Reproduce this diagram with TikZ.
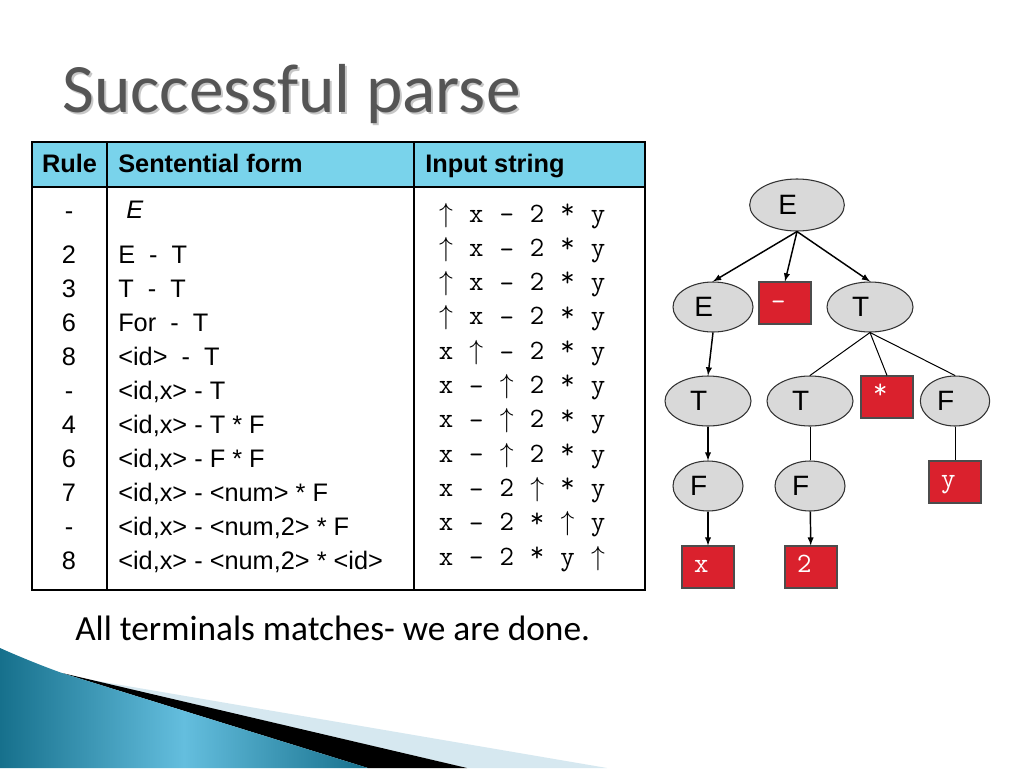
\documentclass[tikz,border=0pt]{standalone}
\usepackage{fontspec}
\setmainfont{Liberation Sans}
\newfontfamily\slidefont{Carlito}
\usetikzlibrary{shapes.geometric}

\definecolor{headcyan}{RGB}{121,211,235}
\definecolor{nodegray}{RGB}{217,217,217}
\definecolor{termred}{RGB}{218,33,45}
\definecolor{titlegray}{RGB}{85,85,85}
\definecolor{swoopdark}{RGB}{22,112,140}
\definecolor{swooplight}{RGB}{100,190,222}
\definecolor{swooppale}{RGB}{214,232,240}

\newcommand\inptr{$\uparrow$}
\newcommand\tokdash{\raisebox{-0.15ex}{–}}
\newcommand\tokstar{\raisebox{0.3ex}{*}}

\tikzset{
  nt/.style={ellipse, draw=black!80, fill=nodegray, line width=0.8pt, inner sep=0pt,
    minimum height=37.5pt, font=\fontsize{21}{21}\selectfont,
    execute at end node={\hspace{14pt}}},
  term/.style={rectangle, draw=black!70, fill=termred, text=white, line width=0.8pt,
    minimum width=39pt, minimum height=31.5pt, inner sep=0pt, text height=11pt, text depth=3pt,
    font=\ttfamily\fontsize{21}{21}\selectfont, execute at end node={\hspace{10pt}}},
  cell/.style={anchor=base west, inner sep=0pt, font=\fontsize{19}{19}\selectfont},
  tok/.style={anchor=base, inner sep=0pt, font=\ttfamily\fontsize{21}{21}\selectfont},
  tie/.style={line width=0.75pt},
  arr/.style={->, >=latex, line width=1.1pt},
}

\begin{document}
\begin{tikzpicture}[x=0.75pt, y=-0.75pt]
\useasboundingbox (0,0) rectangle (1024,768);
\fill[white] (0,0) rectangle (1024,768);

% title
\node[anchor=base west, inner sep=0pt, text=black!22, font=\slidefont\fontsize{52}{52}\selectfont] (shadow) at (64,114) {Successful parse};
\node[anchor=base west, inner sep=0pt, text=titlegray, font=\slidefont\fontsize{52}{52}\selectfont] (title) at (62,112) {Successful parse};

% table
\fill[headcyan] (32,142) rectangle (645,187);
\draw[line width=1.1pt] (32,187) -- (645,187);
\draw[line width=1.1pt] (107,142) -- (107,590);
\draw[line width=1.1pt] (414,142) -- (414,590);
\draw[line width=2.2pt] (32,142) rectangle (645,590);

\node[cell, anchor=base, font=\bfseries\fontsize{19}{19}\selectfont] (hRule) at (69.5,172) {Rule};
\node[cell, font=\bfseries\fontsize{19}{19}\selectfont] (hForm) at (118,172) {Sentential form};
\node[cell, font=\bfseries\fontsize{19}{19}\selectfont] (hInput) at (425,172) {Input string};

\node[cell, anchor=base] (r0) at (69,219) {-};
\node[cell] (f0) at (126,218) {\itshape E};
\foreach \r/\f [count=\k] in {2/{E\ \ -\ \ T}, 3/{T\ \ -\ \ T}, 6/{For\ \ -\ \ T},
    8/{<id>\ \ -\ \ T}, -/{<id,x> - T}, 4/{<id,x> - T * F}, 6/{<id,x> - F * F},
    7/{<id,x> - <num> * F}, -/{<id,x> - <num,2> * F}, 8/{<id,x> - <num,2> * <id>}}
{
  \node[cell, anchor=base] (r\k) at (69,{263+34.1*(\k-1)}) {\r};
  \node[cell] (f\k) at (118,{263+34.1*(\k-1)}) {\f};
}

\foreach \toks [count=\k] in {{\inptr,x,\tokdash,2,\tokstar,y}, {\inptr,x,\tokdash,2,\tokstar,y},
    {\inptr,x,\tokdash,2,\tokstar,y}, {\inptr,x,\tokdash,2,\tokstar,y},
    {x,\inptr,\tokdash,2,\tokstar,y}, {x,\tokdash,\inptr,2,\tokstar,y},
    {x,\tokdash,\inptr,2,\tokstar,y}, {x,\tokdash,\inptr,2,\tokstar,y},
    {x,\tokdash,2,\inptr,\tokstar,y}, {x,\tokdash,2,\tokstar,\inptr,y},
    {x,\tokdash,2,\tokstar,y,\inptr}}
{
  \foreach \t [count=\i] in \toks
    \node[tok] (s\k-\i) at ({446+30.4*(\i-1)},{222+34.3*(\k-1)}) {\t};
}

% parse tree
\node[nt, minimum width=71pt, minimum height=39pt] (E0) at (797,205) {E};
\node[nt, minimum width=60pt] (E1) at (713,307) {E};
\node[term] (minus) at (785,303) {\tokdash};
\node[nt, minimum width=64.5pt] (T1) at (870,307) {T};
\node[nt, minimum width=64.5pt] (T2) at (708,401) {T};
\node[nt, minimum width=64.5pt] (T3) at (810,401) {T};
\node[term] (star) at (887,397) {\tokstar};
\node[nt, minimum width=52pt] (F3) at (955,401) {F};
\node[nt, minimum width=52.5pt] (F1) at (708,486) {F};
\node[nt, minimum width=52.5pt] (F2) at (810,486) {F};
\node[term] (y) at (955,482) {y};
\node[term] (x) at (708,567) {x};
\node[term] (two) at (811,567) {2};

\draw[arr] (E0.south) -- (E1.north);
\draw[arr] (E0.south) -- (minus.north);
\draw[arr] (E0.south) -- (T1.north);
\draw[arr] (E1.south) -- (T2.north);
\draw[arr] (T2) -- (F1);
\draw[arr] (F1) -- (x);
\draw[arr] (F2) -- (two);
\draw[tie] (T1.south) -- (T3.north);
\draw[tie] (T1.south) -- (star.north);
\draw[tie] (T1.south) -- (F3.north);
\draw[tie] (T3) -- (F2);
\draw[tie] (F3) -- (y);

\node[anchor=base west, inner sep=0pt, font=\slidefont\fontsize{26.5}{26.5}\selectfont] (done) at (75,640) {All terminals matches- we are done.};

% swoosh
\fill[swooppale] (80,678) -- (607,768) -- (467,768) -- cycle;
\fill[black] (62,673) -- (467,768) -- (368,768) -- cycle;
\shade[left color=swoopdark, right color=swoopdark, middle color=swooplight]
  (0,648) .. controls (20,657) and (45,667) .. (62,673) -- (368,768) -- (0,768) -- cycle;
\end{tikzpicture}
\end{document}
